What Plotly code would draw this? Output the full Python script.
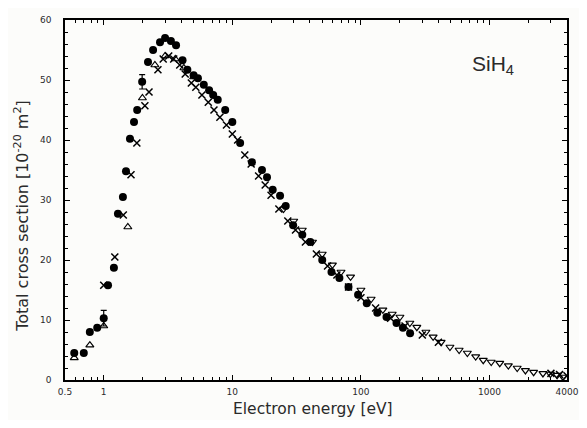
import plotly.graph_objects as go

# Filled circles
circ_E = [0.59, 0.70, 0.78, 0.89, 1.00, 1.08, 1.20, 1.29, 1.41, 1.49, 1.60, 1.72, 1.82, 1.99,
          2.21, 2.42, 2.74, 3.0, 3.33, 3.65, 4.1, 4.47, 5.0, 5.4, 6.0, 6.6, 7.1, 7.7, 8.8,
          10.0, 11.5, 14.2, 17.0, 18.6, 20.6, 23.5, 26.0, 29.7, 35.0, 40.4, 50.0, 59.0, 68.0,
          80.0, 95.0, 111.0, 134.0, 158.0, 189.0, 212.0, 241.0]
circ_S = [4.5, 4.5, 8.0, 8.7, 10.3, 15.8, 18.7, 27.7, 30.5, 34.8, 40.2, 43.0, 45.0, 49.7,
          53.0, 55.0, 56.3, 57.0, 56.5, 55.8, 53.3, 51.7, 50.8, 50.3, 49.2, 48.3, 47.5, 46.7, 45.0,
          43.0, 39.5, 36.3, 35.0, 33.8, 31.7, 30.7, 29.0, 25.8, 24.2, 23.0, 20.0, 18.0, 17.0,
          15.5, 14.2, 12.8, 11.2, 10.5, 9.5, 8.7, 7.8]
circ_err = [0, 0, 0, 0, 1.3, 0, 0, 0, 0, 0, 0, 0, 0, 1.2,
            0, 0, 0, 0, 0, 0, 0, 0, 0, 0, 0, 0, 0, 0, 0,
            0, 0, 0, 0, 0, 0, 0, 0, 0, 0, 0, 0, 0, 0,
            0, 0, 0, 0, 0, 0, 0, 0]

# Crosses
cross_E = [1.0, 1.22, 1.42, 1.63, 1.81, 2.09, 2.25, 2.64, 2.9, 3.2, 3.5, 3.9, 4.3, 4.8, 5.2,
           5.8, 6.5, 7.2, 8.0, 9.0, 10.0, 11.0, 12.5, 14.0, 16.0, 18.0, 20.0, 23.0, 27.0, 31.0,
           37.0, 45.0, 55.0, 65.0, 80.0, 100.0, 130.0, 170.0, 220.0, 300.0, 400.0,
           3000.0, 3500.0, 4000.0]
cross_S = [15.8, 20.5, 27.5, 34.2, 39.5, 45.7, 48.0, 51.7, 53.5, 54.0, 53.5, 52.5, 51.0, 49.5, 48.8,
           47.5, 46.3, 45.0, 43.8, 42.5, 41.0, 40.0, 37.5, 36.0, 34.0, 32.5, 30.8, 28.5, 26.5, 25.0,
           23.0, 21.0, 19.0, 17.5, 15.5, 13.7, 12.0, 10.3, 9.0, 7.5, 6.3,
           1.1, 0.9, 0.7]

# Open triangles (up), low energy
tri_E = [0.59, 0.78, 1.0, 1.54, 2.0, 2.5, 3.0, 3.6, 4.2, 5.0]
tri_S = [3.7, 5.8, 9.0, 25.5, 47.0, 52.5, 54.0, 53.5, 52.0, 50.5]

# Open triangles (down), high energy
tdn_E = [25, 30, 35, 42, 50, 60, 70, 83, 100, 120, 148, 175, 201, 240, 272, 320, 364, 420,
         492, 580, 672, 780, 893, 1030, 1200, 1400, 1640, 1900, 2200, 2600, 2970, 3350, 3720]
tdn_S = [28.5, 26.5, 25.0, 23.0, 21.0, 19.2, 18.0, 17.2, 15.0, 13.5, 11.7, 11.0, 10.5, 9.5, 8.8,
         8.0, 7.2, 6.3, 5.5, 5.0, 4.5, 3.9, 3.3, 3.0, 2.8, 2.4, 2.0, 1.6, 1.3, 1.1, 1.0, 0.8, 0.5]

x_tickvals = [0.5, 1, 10, 100, 1000, 4000]
x_ticktext = ["0.5", "1", "10", "100", "1000", "4000"]
x_minor = [0.6, 0.7, 0.8, 0.9] + [m * d for d in (1, 10, 100) for m in range(2, 10)] + [2000, 3000]

TXT = "#2a2a2a"

fig = go.Figure()
fig.add_trace(go.Scatter(x=tdn_E, y=tdn_S, mode="markers",
                         marker=dict(symbol="triangle-down-open", size=7, color="black",
                                     line=dict(width=1.2))))
fig.add_trace(go.Scatter(x=tri_E, y=tri_S, mode="markers",
                         marker=dict(symbol="triangle-up-open", size=7, color="black",
                                     line=dict(width=1.2))))
fig.add_trace(go.Scatter(x=cross_E, y=cross_S, mode="markers",
                         marker=dict(symbol="x-thin-open", size=7, color="black",
                                     line=dict(width=1.5, color="black"))))
fig.add_trace(go.Scatter(x=circ_E, y=circ_S, mode="markers",
                         error_y=dict(type="data", array=circ_err, color="black",
                                      thickness=1.2, width=3),
                         marker=dict(symbol="circle", size=8, color="black")))

fig.add_annotation(x=0.853, y=0.875, xref="paper", yref="paper",
                   xanchor="center", yanchor="middle",
                   text="SiH<sub>4</sub>", showarrow=False,
                   font=dict(size=21, color=TXT, family="Liberation Sans, Arial"))
fig.add_annotation(x=(22 - 65) / 502, y=0.456, xref="paper", yref="paper",
                   xanchor="center", yanchor="middle",
                   text="Total cross section [10<sup>-20</sup> m<sup>2</sup>]",
                   textangle=-90, showarrow=False,
                   font=dict(size=16, color=TXT, family="DejaVu Sans"))
fig.add_annotation(x=0.494, y=-0.081, xref="paper", yref="paper",
                   xanchor="center", yanchor="middle",
                   text="Electron energy [eV]", showarrow=False,
                   font=dict(size=15.5, color=TXT, family="DejaVu Sans"))

# page body has an 8px margin, so the figure is sized and offset to compensate
fig.update_layout(
    width=571, height=412,
    margin=dict(l=57, r=12, t=12, b=40),
    paper_bgcolor="#fcfcfa", plot_bgcolor="#fcfcfa",
    showlegend=False,
    font=dict(family="DejaVu Sans", color=TXT),
)
fig.update_xaxes(
    type="log", range=[-0.30103, 3.60206], automargin=False,
    tickvals=x_tickvals, ticktext=x_ticktext,
    ticks="inside", ticklen=5, tickcolor="black",
    minor=dict(tickvals=x_minor, ticks="inside", ticklen=3, tickcolor="black"),
    showline=True, linecolor="black", linewidth=1.5, mirror="ticks",
    showgrid=False, zeroline=False,
    tickfont=dict(size=9), ticklabelstandoff=2,
)
fig.update_yaxes(
    range=[0, 60], dtick=10, automargin=False,
    ticks="inside", ticklen=5, tickcolor="black",
    minor=dict(dtick=2, ticks="inside", ticklen=3, tickcolor="black"),
    showline=True, linecolor="black", linewidth=1.5, mirror="ticks",
    showgrid=False, zeroline=False,
    tickfont=dict(size=9), ticklabelstandoff=10,
)

fig.write_html("out.html")
